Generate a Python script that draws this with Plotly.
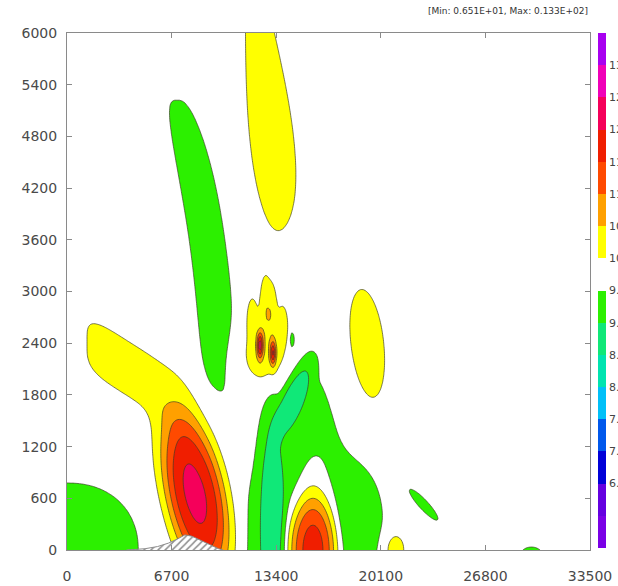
import numpy as np
import plotly.graph_objects as go

# ---- axes -------------------------------------------------------------
x_ticks = [0, 6700, 13400, 20100, 26800, 33500]
y_ticks = [0, 600, 1200, 1800, 2400, 3000, 3600, 4200, 4800, 5400, 6000]
x_range = [0, 33500]
y_range = [0, 6000]

# ---- field: background value plus anomaly cells ------------------------
# Each cell: centre (x, y), half widths, extreme value, axis lean (dx/dy),
# lean curvature, tilt (dy/dx), width taper with height, profile power p,
# squareness q of the outline.
background = 9.75
cell_names = ["west_low", "rotor_core", "ridge_band", "west_column", "upper_plume",
              "cell_base", "finger_1", "finger_2", "finger_3", "finger_4",
              "spot_1", "spot_2", "dot_1",
              "lee_low", "lee_lobe", "lee_core", "lee_cap", "limb_low", "limb_up",
              "east_cell", "east_bump", "east_low", "far_low"]
cell_x     = [0, 8262, 3900, 9059, 12742,
              12800, 11850, 12682, 13130, 13835,
              12360, 13194, 14411,
              15000, 18700, 15724, 15750, 13100, 14500,
              19215, 21000, 22866, 29750]
cell_y     = [0, 630, 2104, 3510, 5400,
              2250, 2697, 2796, 2760, 2633,
              2378, 2285, 2436,
              0, 400, 0, 880, 400, 1750,
              2378, 0, 522, -100]
cell_wx    = [4864, 1918, 2800, 1400, 1338,
              1750, 330, 330, 330, 330,
              200, 190, 150,
              4250, 1450, 1550, 1100, 850, 860,
              1160, 700, 500, 1070]
cell_wy    = [831, 970, 342, 2053, 1900,
              360, 229, 340, 294, 215,
              150, 140, 100,
              2570, 500, 650, 430, 1300, 460,
              685, 210, 227, 176]
cell_peak  = [9.15, 12.2, 10.35, 9.25, 10.35,
              10.35, 10.3, 10.3, 10.3, 10.3,
              11.8, 11.6, 9.2,
              9.15, 9.3, 12.25, 10.0, 9.15, 9.05,
              10.35, 10.35, 9.3, 9.3]
cell_lean  = [0, -1.0, 0, -0.749, -0.637,
              0, 0, 0, 0, 0,
              0, 0, 0,
              0, 0, 0, 0, 0, 2.03,
              -0.5, 0, -4.6, 0]
cell_curve = [0, 0, 0, -2.48e-4, 0,
              0, 0, 0, 0, 0,
              0, 0, 0,
              0, 0, 0, 0, 0, 0,
              0, 0, 0, 0]
cell_tilt  = [0, 0, -0.115, 0, 0,
              0, 0, 0, 0, 0,
              0, 0, 0,
              0, 0, 0, 0, 0, 0,
              0, 0, 0, 0]
cell_taper = [0, 0, 0, 0, -0.68,
              0, 0, 0, 0, 0,
              0, 0, 0,
              -0.5, 0, 0, 0, 0, 0,
              0, 0, 0, 0]
cell_p     = [1, 1.5, 1, 1, 1,
              1, 1, 1, 1, 1,
              1, 1, 1,
              1, 1, 1.5, 1, 2, 2,
              1, 1, 1, 1]
cell_q     = [1.1, 1, 2, 1.5, 1,
              1, 1, 1, 1, 1,
              1, 1, 1,
              1, 1, 1, 1, 1, 1,
              1, 1, 1, 1]

# ---- terrain profile (hatched) -----------------------------------------
terrain_x = [3800, 5000, 5800, 6500, 7100, 7550, 8000, 8600, 9200, 9700, 10000]
terrain_h = [0, 15, 40, 80, 130, 175, 160, 110, 55, 15, 0]

# ---- contour levels and band colours -----------------------------------
level_start, level_end, level_step = 6.0, 13.0, 0.5
bar_edges = [5.5, 6.0, 6.5, 7.0, 7.5, 8.0, 8.5, 9.0, 9.5, 10.0, 10.5, 11.0, 11.5, 12.0, 12.5, 13.0, 13.5]
band_colors = ["#7a00e6", "#6400e0", "#0000d8", "#0058ec", "#00c0f8", "#00e4b0",
               "#10e878", "#2cf000", "#ffffff", "#ffff00", "#ffa000", "#ff4a00",
               "#f01e00", "#f5005a", "#f000b8", "#a800f0"]
bar_tick_vals = [6.5, 7.0, 7.5, 8.0, 8.5, 9.0, 9.5, 10.0, 10.5, 11.0, 11.5, 12.0, 12.5, 13.0]

stats_text = "[Min: 0.651E+01, Max: 0.133E+02]"

# ---- build the gridded field -------------------------------------------
gx = np.arange(0, 33500 + 1, 100)
gy = np.arange(0, 6000 + 1, 20)
X, Y = np.meshgrid(gx, gy)
Z = np.full(X.shape, background, dtype=float)
for i in range(len(cell_names)):
    dy = Y - cell_y[i]
    dx = X - cell_x[i] - cell_lean[i] * dy - cell_curve[i] * dy ** 2
    dy = dy - cell_tilt[i] * dx
    w = cell_wx[i] * np.clip(1 + cell_taper[i] * (Y - cell_y[i]) / cell_wy[i], 0.2, None)
    u = np.abs(dx / w)
    v = np.abs(dy / cell_wy[i])
    q = cell_q[i]
    r2 = (u ** (2 * q) + v ** (2 * q)) ** (1.0 / q)
    Z += (cell_peak[i] - background) * np.exp(-np.minimum(r2 ** cell_p[i], 60))
Z = np.round(Z, 3)

n_bands = len(band_colors)
fill_scale = [[k / (n_bands - 1), c] for k, c in enumerate(band_colors)]
bar_scale = []
for k, c in enumerate(band_colors):
    bar_scale.append([k / n_bands, c])
    bar_scale.append([(k + 1) / n_bands, c])
bar_mids = [[(a + b) / 2] for a, b in zip(bar_edges[:-1], bar_edges[1:])]

# ---- page geometry (pixels) --------------------------------------------
W, H = 618, 586
m_l, m_t, m_b = 67, 33, 36
plot_right = 590
bar_left, bar_right, bar_top, bar_bottom = 598, 606, 33, 548
paper_w = W - m_l
paper_h = H - m_t - m_b

fig = go.Figure()
fig.add_trace(go.Contour(
    x=gx, y=gy, z=Z,
    contours=dict(start=level_start, end=level_end, size=level_step, coloring="fill"),
    colorscale=fill_scale, showscale=False,
    line=dict(color="rgba(60,60,40,0.85)", width=0.8, smoothing=1),
    hoverinfo="skip",
))
fig.add_trace(go.Scatter(
    x=terrain_x, y=terrain_h, mode="lines", fill="toself",
    line=dict(color="#8c8c8c", width=1),
    fillcolor="white",
    fillpattern=dict(shape="/", fgcolor="#8c8c8c", bgcolor="white", size=5, solidity=0.3),
    hoverinfo="skip", showlegend=False,
))
# colour key drawn as a one-column heatmap on its own axes
fig.add_trace(go.Heatmap(
    x=[0, 1], y=bar_edges, z=bar_mids,
    zmin=bar_edges[0], zmax=bar_edges[-1], colorscale=bar_scale, showscale=False,
    xaxis="x2", yaxis="y2", hoverinfo="skip",
))

axis_font = dict(family="DejaVu Sans", size=14, color="#4a4a4a")
fig.update_layout(
    template="none",
    width=W, height=H,
    margin=dict(l=m_l, r=0, t=m_t, b=m_b, pad=0),
    paper_bgcolor="white", plot_bgcolor="white",
    showlegend=False,
    xaxis=dict(domain=[0, (plot_right - m_l) / paper_w],
               range=x_range, tickvals=x_ticks, ticktext=[str(v) for v in x_ticks],
               ticks="inside", ticklen=5, tickcolor="#8a8a8a", showline=True, linecolor="#8a8a8a",
               linewidth=1, mirror="ticks", showgrid=False, zeroline=False, automargin=False,
               tickfont=axis_font, ticklabelstandoff=13),
    yaxis=dict(range=y_range, tickvals=y_ticks, ticktext=[str(v) for v in y_ticks],
               ticks="inside", ticklen=5, tickcolor="#8a8a8a", showline=True, linecolor="#8a8a8a",
               linewidth=1, mirror="ticks", showgrid=False, zeroline=False, automargin=False,
               tickfont=axis_font, ticklabelstandoff=6),
    xaxis2=dict(domain=[(bar_left - m_l) / paper_w, (bar_right - m_l) / paper_w],
                range=[0, 1], visible=False, anchor="y2", fixedrange=True),
    yaxis2=dict(domain=[(H - m_b - bar_bottom) / paper_h, min(1.0, (H - m_b - bar_top) / paper_h)],
                range=[bar_edges[0], bar_edges[-1]], anchor="x2", side="right",
                tickvals=bar_tick_vals, ticktext=[f"{v:.1f}" for v in bar_tick_vals],
                ticks="", showline=False, showgrid=False, zeroline=False, automargin=False,
                tickfont=dict(family="DejaVu Sans", size=11, color="#444"),
                ticklabelstandoff=2, fixedrange=True),
    annotations=[dict(text=stats_text, xref="paper", yref="paper",
                      x=(plot_right - m_l) / paper_w, y=(H - m_b - 11) / paper_h,
                      xanchor="right", yanchor="middle", showarrow=False,
                      font=dict(family="DejaVu Sans", size=9, color="#333"))],
)

fig.write_html("out.html")
